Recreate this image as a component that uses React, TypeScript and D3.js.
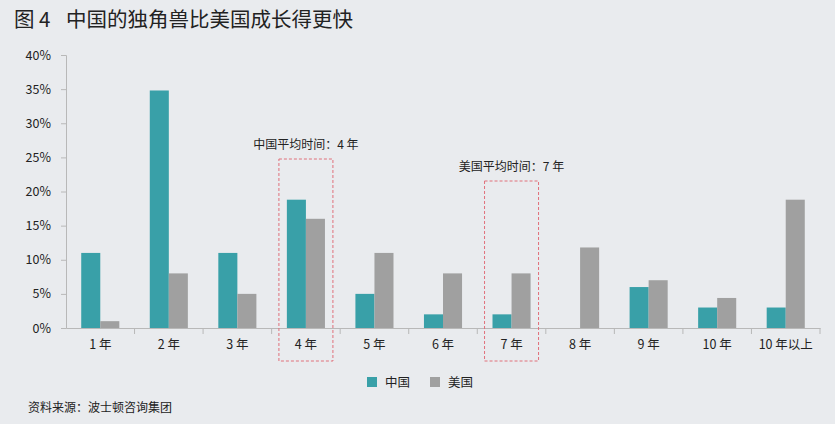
import React, { useEffect, useRef } from 'react';
import * as d3 from 'd3';

const categories = ['1 年', '2 年', '3 年', '4 年', '5 年', '6 年', '7 年', '8 年', '9 年', '10 年', '10 年以上'];
const seriesNames = ['中国', '美国'];
const chinaValues = [11, 34.8, 11, 18.8, 5, 2, 2, 0, 6, 3, 3];
const usValues = [1, 8, 5, 16, 11, 8, 8, 11.8, 7, 4.4, 18.8];
const yTicks = [0, 5, 10, 15, 20, 25, 30, 35, 40];
const highlights = [
  { category: '4 年', label: '中国平均时间：4 年' },
  { category: '7 年', label: '美国平均时间：7 年' },
];

const colors = ['#39a0a8', '#a0a0a0'];
const font = '"Noto Sans CJK SC", "Noto Sans", sans-serif';

export default function App() {
  const ref = useRef<SVGSVGElement>(null);

  useEffect(() => {
    if (!ref.current) return;
    const svg = d3.select(ref.current);
    svg.selectAll('*').remove();

    svg.append('rect').attr('width', 835).attr('height', 424).attr('fill', '#e9ebee');

    const title = svg.append('text')
      .attr('y', 27)
      .attr('font-size', 20.5).attr('fill', '#222').attr('font-family', font);
    title.append('tspan').attr('x', 14).text('图 4');
    title.append('tspan').attr('x', 66).text('中国的独角兽比美国成长得更快');

    const x = d3.scaleBand().domain(categories).range([66, 820]);
    const inner = d3.scaleBand().domain(seriesNames).range([0, x.bandwidth()]).paddingInner(0).paddingOuter(0.8);
    const y = d3.scaleLinear().domain([0, 40]).range([328, 55]);

    // y axis
    const yAxis = svg.append('g').attr('transform', 'translate(66,0)')
      .call(d3.axisLeft(y).tickValues(yTicks).tickFormat(d => `${d}%`).tickSize(5).tickPadding(10));
    yAxis.select('.domain').attr('stroke', '#b8b8b8');
    yAxis.selectAll('.tick line').attr('stroke', '#b8b8b8');
    yAxis.selectAll('.tick text').attr('font-size', 12.5).attr('fill', '#222').attr('font-family', font);

    // bars
    const rows = categories.map((c, i) => ({ c, v: [chinaValues[i], usValues[i]] }));
    const groups = svg.append('g').selectAll('g').data(rows).enter().append('g')
      .attr('transform', d => `translate(${x(d.c)},0)`);
    groups.selectAll('rect')
      .data(d => d.v.map((v, k) => ({ v, k })))
      .enter().append('rect')
      .attr('x', d => inner(seriesNames[d.k]) as number)
      .attr('width', inner.bandwidth())
      .attr('y', d => y(d.v))
      .attr('height', d => y(0) - y(d.v))
      .attr('fill', d => colors[d.k]);

    // x axis
    const xAxis = svg.append('g').attr('transform', 'translate(0,328)')
      .call(d3.axisBottom(x).tickSize(0).tickPadding(12));
    xAxis.select('.domain').attr('stroke', '#b8b8b8');
    xAxis.selectAll('.tick text').attr('font-size', 12.5).attr('fill', '#222').attr('font-family', font);
    svg.append('g').selectAll('line')
      .data(categories.map(c => (x(c) as number) + x.bandwidth()))
      .enter().append('line')
      .attr('x1', d => d).attr('x2', d => d).attr('y1', 328).attr('y2', 334)
      .attr('stroke', '#b8b8b8');

    // highlight boxes
    highlights.forEach((h, i) => {
      const cx = (x(h.category) as number) + x.bandwidth() / 2;
      const top = i === 0 ? 159 : 181;
      svg.append('rect')
        .attr('x', cx - 27).attr('y', top).attr('width', 54).attr('height', 361 - top)
        .attr('fill', 'none').attr('stroke', '#e0707a').attr('stroke-width', 1)
        .attr('stroke-dasharray', '3,2');
      svg.append('text')
        .attr('x', cx).attr('y', top - 10)
        .attr('text-anchor', 'middle')
        .attr('font-size', 12).attr('fill', '#222').attr('font-family', font)
        .text(h.label);
    });

    // legend
    const legend = svg.append('g').attr('transform', 'translate(367,377)');
    seriesNames.forEach((s, i) => {
      const g = legend.append('g').attr('transform', `translate(${i * 63},0)`);
      g.append('rect').attr('width', 10).attr('height', 10).attr('fill', colors[i]);
      g.append('text').attr('x', 18).attr('y', 9.5)
        .attr('font-size', 12.5).attr('fill', '#222').attr('font-family', font).text(s);
    });

    svg.append('text')
      .attr('x', 28).attr('y', 412)
      .attr('font-size', 12).attr('fill', '#222').attr('font-family', font)
      .text('资料来源：波士顿咨询集团');
  }, []);

  return <svg ref={ref} width={835} height={424} style={{ position: 'absolute', left: 0, top: 0 }} />;
}
